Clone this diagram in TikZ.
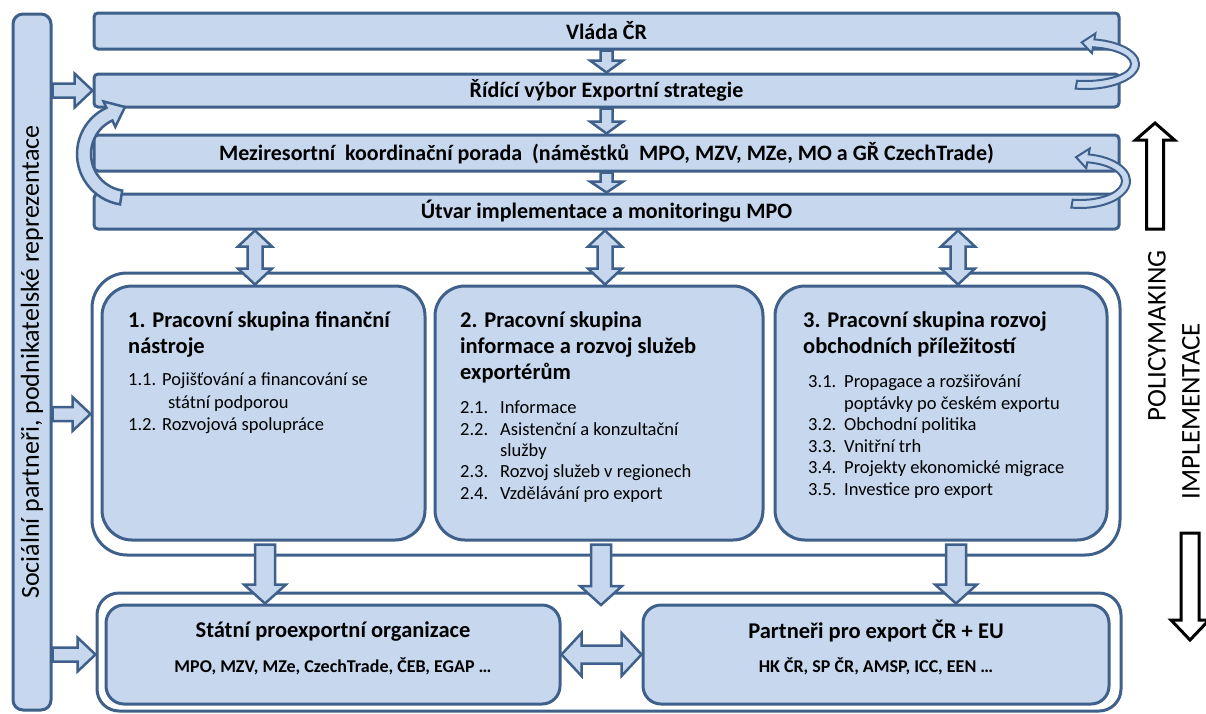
\documentclass[tikz,border=0pt]{standalone}
\usepackage{fontspec}
\setmainfont{Carlito}
\usetikzlibrary{calc}
\definecolor{bfill}{RGB}{198,215,238}
\definecolor{bline}{RGB}{62,96,138}
\newcommand\sblock[6][blk]{%
 \coordinate (hh) at ($(#3)!#6!(#2)$);
 \draw[#1] ($(#2)!#4!90:(#3)$) -- ($(hh)!#4!90:(#3)$) -- ($(hh)!#5!90:(#3)$) -- (#3) -- ($(hh)!#5!-90:(#3)$) -- ($(hh)!#4!-90:(#3)$) -- ($(#2)!#4!-90:(#3)$) -- cycle;}
\newcommand\dblock[6][blk]{%
 \coordinate (ha) at ($(#2)!#6!(#3)$);
 \coordinate (hb) at ($(#3)!#6!(#2)$);
 \draw[#1] (#2) -- ($(ha)!#5!90:(#3)$) -- ($(ha)!#4!90:(#3)$) -- ($(hb)!#4!90:(#3)$) -- ($(hb)!#5!90:(#3)$) -- (#3) -- ($(hb)!#5!-90:(#3)$) -- ($(hb)!#4!-90:(#3)$) -- ($(ha)!#4!-90:(#3)$) -- ($(ha)!#5!-90:(#3)$) -- cycle;}
\begin{document}
\begin{tikzpicture}[x=1pt,y=-1pt,
  box/.style={draw=bline, line width=3pt, fill=bfill, rounded corners=4pt, inner sep=0pt},
  blk/.style={draw=bline, line width=2.5pt, fill=bfill, line join=miter},
  cblk/.style={draw=bline, line width=2pt, fill=bfill, line join=miter},
  outl/.style={draw=black, line width=3pt, fill=white, line join=miter},
  toptxt/.style={font=\bfseries\fontsize{22}{26}\selectfont},
  ttl/.style={font=\bfseries\fontsize{22.5}{26}\selectfont, inner sep=0pt, anchor=base west},
  itm/.style={font=\fontsize{18.5}{22}\selectfont, inner sep=0pt, anchor=base west},
  btitle/.style={font=\bfseries\fontsize{22.5}{26}\selectfont, inner sep=0pt},
  sub/.style={font=\bfseries\fontsize{18}{22}\selectfont, inner sep=0pt},
  side/.style={rotate=90, font=\fontsize{27}{30}\selectfont, inner sep=0pt}]
\useasboundingbox (0,0) rectangle (1206,713);
% left box
\node[box, rounded corners=10pt, minimum width=38pt, minimum height=696pt] (soc) at (32,362) {};
\node[rotate=90, font=\fontsize{26}{30}\selectfont, inner sep=0pt] (soct) at (soc.center) {Sociální partneři, podnikatelské reprezentace};
% top boxes
\node[box, toptxt, minimum width=1025pt, minimum height=36pt] (vlada) at (606.5,31) {Vláda ČR};
\node[box, toptxt, minimum width=1025pt, minimum height=33pt] (ridici) at (606.5,90.5) {Řídící výbor Exportní strategie};
\node[box, toptxt, minimum width=1025pt, minimum height=36pt] (mezi) at (606.5,153) {Meziresortní\ \ koordinační porada\ \ (náměstků\ \ MPO, MZV, MZe, MO a GŘ CzechTrade)};
\node[box, toptxt, minimum width=1025pt, minimum height=35pt] (utvar) at (606.5,211.5) {Útvar implementace a monitoringu MPO};
% group container and boxes
\node[box, rounded corners=35pt, minimum width=1028pt, minimum height=282pt, fill=white] (gc) at (606,414) {};
\node[box, rounded corners=30pt, minimum width=323pt, minimum height=254pt] (g1) at (263.5,413) {};
\node[box, rounded corners=30pt, minimum width=328pt, minimum height=254pt] (g2) at (599,413) {};
\node[box, rounded corners=30pt, minimum width=332pt, minimum height=254pt] (g3) at (941,413) {};
% bottom container and boxes
\node[box, rounded corners=22pt, minimum width=1024pt, minimum height=118pt, fill=white] (bc) at (609,652) {};
\node[box, rounded corners=18pt, minimum width=454pt, minimum height=99pt] (sb) at (333,654.5) {};
\node[box, rounded corners=18pt, minimum width=466pt, minimum height=99pt] (pb) at (876,654.5) {};
% group texts
\node[ttl] (g1t1) at (128,327) {1. Pracovní skupina finanční};
\node[ttl] (g1t2) at (128,353) {nástroje};
\node[itm] (g1i1) at (128,385.5) {1.1.};
\node[itm] (g1i1t) at (162,385.5) {Pojišťování a financování se};
\node[itm] (g1i1c) at (168,408.5) {státní podporou};
\node[itm] (g1i2) at (128,430.5) {1.2.};
\node[itm] (g1i2t) at (162,430.5) {Rozvojová spolupráce};
\node[ttl] (g2t1) at (460,327) {2. Pracovní skupina};
\node[ttl] (g2t2) at (460,353) {informace a rozvoj služeb};
\node[ttl] (g2t3) at (460,379) {exportérům};
\node[itm] (g2i1) at (460,413.5) {2.1.};
\node[itm] (g2i1t) at (500,413.5) {Informace};
\node[itm] (g2i2) at (460,435.5) {2.2.};
\node[itm] (g2i2t) at (500,435.5) {Asistenční a konzultační};
\node[itm] (g2i2c) at (500,456.5) {služby};
\node[itm] (g2i3) at (460,477.5) {2.3.};
\node[itm] (g2i3t) at (500,477.5) {Rozvoj služeb v regionech};
\node[itm] (g2i4) at (460,499.5) {2.4.};
\node[itm] (g2i4t) at (500,499.5) {Vzdělávání pro export};
\node[ttl] (g3t1) at (803,327) {3. Pracovní skupina rozvoj};
\node[ttl] (g3t2) at (803,353) {obchodních příležitostí};
\node[itm] (g3i1) at (808,387.5) {3.1.};
\node[itm] (g3i1t) at (844,387.5) {Propagace a rozšiřování};
\node[itm] (g3i1c) at (844,409) {poptávky po českém exportu};
\node[itm] (g3i2) at (808,430.5) {3.2.};
\node[itm] (g3i2t) at (844,430.5) {Obchodní politika};
\node[itm] (g3i3) at (808,452) {3.3.};
\node[itm] (g3i3t) at (844,452) {Vnitřní trh};
\node[itm] (g3i4) at (808,473.5) {3.4.};
\node[itm] (g3i4t) at (844,473.5) {Projekty ekonomické migrace};
\node[itm] (g3i5) at (808,495) {3.5.};
\node[itm] (g3i5t) at (844,495) {Investice pro export};
% bottom texts
\node[btitle] (sbt) at (333,631) {Státní proexportní organizace};
\node[sub] (sbs) at (333,666) {MPO, MZV, MZe, CzechTrade, ČEB, EGAP …};
\node[btitle] (pbt) at (876,631) {Partneři pro export ČR + EU};
\node[sub] (pbs) at (876,666) {HK ČR, SP ČR, AMSP, ICC, EEN …};
% right labels
\node[side] (pm) at (1157,336) {POLICYMAKING};
\node[side] (im) at (1191,411) {IMPLEMENTACE};
% curved arrows
\coordinate (CL) at (128,154);
\coordinate (tipL) at (125,107);
\draw[blk] ($(CL)+(99:51)$) arc[start angle=99, end angle=245, radius=51] -- ($(CL)+(245:58)$) -- (tipL) -- ($(CL)+(245:30)$) -- ($(CL)+(245:37)$) arc[start angle=245, end angle=99, radius=37] -- cycle;
\coordinate (CU) at (1085,64);
\coordinate (tipU) at (1081.7,42.4);
\draw[cblk] ($(CU)+(100:54 and 25)$) arc[start angle=100, end angle=-80, x radius=54, y radius=25] -- ($(CU)+(-80:60 and 31)$) -- (tipU) -- ($(CU)+(-80:40 and 11)$) -- ($(CU)+(-80:46 and 17)$) arc[start angle=-80, end angle=100, x radius=46, y radius=17] -- cycle;
\coordinate (CD) at (1080,181);
\coordinate (tipD) at (1076,157.2);
\draw[cblk] ($(CD)+(100:50 and 27)$) arc[start angle=100, end angle=-80, x radius=50, y radius=27] -- ($(CD)+(-80:56 and 33)$) -- (tipD) -- ($(CD)+(-80:36 and 13)$) -- ($(CD)+(-80:42 and 19)$) arc[start angle=-80, end angle=100, x radius=42, y radius=19] -- cycle;
% small down arrows between top boxes
\sblock{vlada.south}{ridici.north}{6pt}{16.5pt}{12pt}
\sblock{ridici.south}{mezi.north}{6pt}{16.5pt}{12pt}
\sblock{mezi.south}{utvar.north}{6pt}{16.5pt}{11pt}
% double arrows utvar <-> groups
\coordinate (x1) at (255,0);
\coordinate (x2) at (605,0);
\coordinate (x3) at (958,0);
\coordinate (u1) at (utvar.south -| x1);
\coordinate (u2) at (utvar.south -| x2);
\coordinate (u3) at (utvar.south -| x3);
\coordinate (v1) at (g1.north -| x1);
\coordinate (v2) at (g2.north -| x2);
\coordinate (v3) at (g3.north -| x3);
\dblock{u1}{v1}{7.5pt}{17pt}{16pt}
\dblock{u2}{v2}{7.5pt}{17pt}{16pt}
\dblock{u3}{v3}{7.5pt}{17pt}{16pt}
% down arrows groups -> bottom
\coordinate (y1) at (265,0);
\coordinate (y2) at (601,0);
\coordinate (y3) at (956,0);
\coordinate (d1a) at ($(g1.south -| y1)+(0,3)$);
\coordinate (d2a) at ($(g2.south -| y2)+(0,3)$);
\coordinate (d3a) at ($(g3.south -| y3)+(0,3)$);
\coordinate (d1b) at (sb.north -| y1);
\coordinate (d2b) at (601,605);
\coordinate (d3b) at (pb.north -| y3);
\sblock{d1a}{d1b}{10pt}{21pt}{19pt}
\sblock{d2a}{d2b}{10pt}{21pt}{19pt}
\sblock{d3a}{d3b}{10pt}{21pt}{19pt}
% horizontal double arrow
\dblock{sb.east}{pb.west}{9pt}{21.5pt}{20pt}
% arrows from left box
\coordinate (l1) at (soc.east |- ridici.west);
\coordinate (l2) at (soc.east |- gc.west);
\coordinate (l3) at (soc.east |- sb.west);
\coordinate (r3) at (bc.west |- sb.west);
\sblock{l1}{ridici.west}{7pt}{17pt}{18pt}
\sblock{l2}{gc.west}{7pt}{17pt}{18pt}
\sblock{l3}{r3}{7pt}{17pt}{18pt}
% outline arrows right
\coordinate (pu1) at (1155,229);
\coordinate (pu2) at (1155,123);
\coordinate (pd1) at (1190,533);
\coordinate (pd2) at (1190,640);
\sblock[outl]{pu1}{pu2}{8.5pt}{19.5pt}{17pt}
\sblock[outl]{pd1}{pd2}{9pt}{19pt}{20pt}
\end{tikzpicture}
\end{document}
